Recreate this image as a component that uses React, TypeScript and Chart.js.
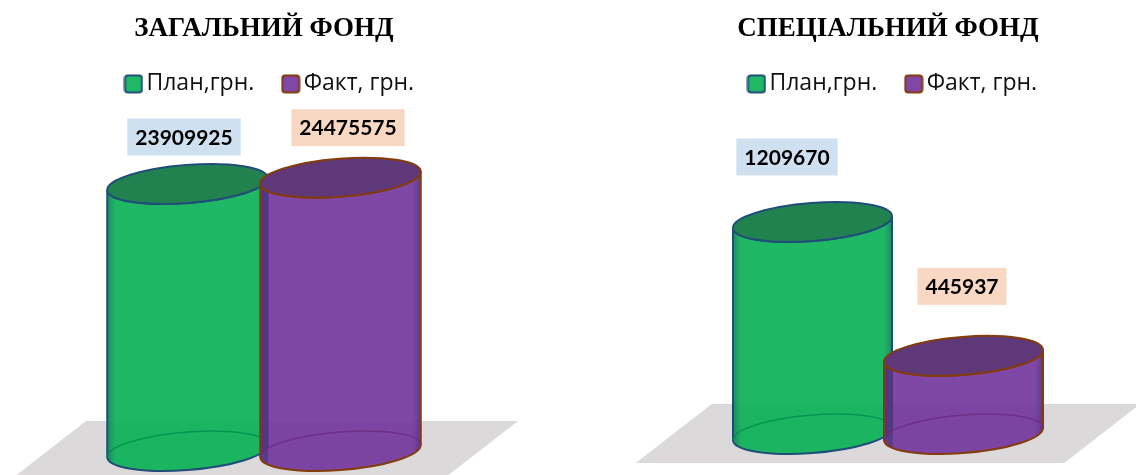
import React, { useEffect, useRef } from "react";
import { Chart, registerables } from "chart.js";

Chart.register(...registerables);

const categories = [""];
const seriesNames = ["План,грн.", "Факт, грн."];
const generalPlan = [23909925];
const generalFact = [24475575];
const specialPlan = [1209670];
const specialFact = [445937];

const SERIES_STYLE = [
  {
    legendFill: "#1FB864", stroke: "#1F4E79", top: "#21824F", backArc: "rgba(0,140,75,0.75)",
    main: "rgba(6,176,83,0.9)", edge: "rgba(10,125,88,0.9)", label: "#CFE0F1",
  },
  {
    legendFill: "#7F47A6", stroke: "#843C0C", top: "#5E3878", backArc: "rgba(110,40,130,0.75)",
    main: "rgba(113,51,156,0.9)", edge: "rgba(85,50,130,0.95)", label: "#F8D8C3",
  },
];

const TILT = (-4.5 * Math.PI) / 180;
const MINOR = 19;

function cylinder(ctx: CanvasRenderingContext2D, bar: any, s: any, overlapFrac: number) {
  const cx = bar.x, topY = bar.y, baseY = bar.base;
  const a = bar.width / 2, b = MINOR, phi = TILT;
  const t0 = Math.atan2(-b * Math.sin(phi), a * Math.cos(phi));
  const dx = a * Math.cos(t0) * Math.cos(phi) - b * Math.sin(t0) * Math.sin(phi);
  const dy = a * Math.cos(t0) * Math.sin(phi) + b * Math.sin(t0) * Math.cos(phi);

  const g = ctx.createLinearGradient(cx - dx, 0, cx + dx, 0);
  if (overlapFrac > 0) {
    g.addColorStop(0, s.edge);
    g.addColorStop(overlapFrac, s.edge);
    g.addColorStop(overlapFrac + 0.002, s.main);
  } else {
    g.addColorStop(0, s.edge);
    g.addColorStop(0.05, s.main);
  }
  g.addColorStop(0.95, s.main);
  g.addColorStop(1, s.edge);

  ctx.save();
  ctx.beginPath();
  ctx.moveTo(cx + dx, topY + dy);
  ctx.lineTo(cx + dx, baseY + dy);
  ctx.ellipse(cx, baseY, a, b, phi, t0, t0 + Math.PI);
  ctx.lineTo(cx - dx, topY - dy);
  ctx.ellipse(cx, topY, a, b, phi, t0 + Math.PI, t0, true);
  ctx.closePath();
  ctx.fillStyle = g;
  ctx.fill();
  ctx.lineWidth = 2;
  ctx.strokeStyle = s.stroke;
  ctx.stroke();

  ctx.beginPath();
  ctx.ellipse(cx, baseY, a, b, phi, t0 + Math.PI, t0 + 2 * Math.PI);
  ctx.strokeStyle = s.backArc;
  ctx.lineWidth = 1.5;
  ctx.stroke();

  ctx.beginPath();
  ctx.ellipse(cx, topY, a, b, phi, 0, 2 * Math.PI);
  ctx.fillStyle = s.top;
  ctx.fill();
  ctx.lineWidth = 2;
  ctx.strokeStyle = s.stroke;
  ctx.stroke();
  ctx.restore();
}

function makeSwatch(fill: string, stroke: string) {
  const c = document.createElement("canvas");
  c.width = 20;
  c.height = 20;
  const x = c.getContext("2d")!;
  x.beginPath();
  x.roundRect(1.5, 1.5, 17, 17, 3);
  x.fillStyle = fill;
  x.fill();
  x.lineWidth = 2;
  x.strokeStyle = stroke;
  x.stroke();
  return c;
}

function CylinderChart(props: {
  title: string; plan: number[]; fact: number[]; left: number; width: number; baseFromBottom: number;
  pxPerUnit: number; categoryPct: number; barPct: number; labelOffsets: number[][]; legendShift: number;
}) {
  const ref = useRef<HTMLCanvasElement | null>(null);
  useEffect(() => {
    const swatches = SERIES_STYLE.map((s) => makeSwatch(s.legendFill, s.stroke));
    const scenePlugin = {
      id: "cylinders",
      afterLayout(chart: any) {
        chart.legend.left += props.legendShift;
        chart.legend.right += props.legendShift;
        chart.legend.top -= 8;
        chart.legend.bottom -= 8;
      },
      beforeDatasetsDraw(chart: any) {
        const ctx = chart.ctx as CanvasRenderingContext2D;
        const a = chart.getDatasetMeta(0).data[0] as any;
        const c = chart.getDatasetMeta(1).data[0] as any;
        const base = a.base;
        const xL = a.x - a.width / 2;
        const xR = c.x + c.width / 2;
        ctx.save();
        ctx.beginPath();
        ctx.moveTo(xL - 21, base - 30);
        ctx.lineTo(xR + 97, base - 30);
        ctx.lineTo(xR + 21, base + 29);
        ctx.lineTo(xL - 97, base + 29);
        ctx.closePath();
        ctx.fillStyle = "#DBD9DA";
        ctx.fill();
        ctx.restore();
        const overlap = (a.x + a.width / 2 - (c.x - c.width / 2)) / c.width;
        cylinder(ctx, a, SERIES_STYLE[0], 0);
        cylinder(ctx, c, SERIES_STYLE[1], overlap);
        [a, c].forEach((bar, i) => {
          const v = chart.data.datasets[i].data[0];
          const text = String(v);
          ctx.save();
          ctx.font = "bold 21px Lato";
          const w = ctx.measureText(text).width + 16;
          const h = 37;
          const lx = bar.x + props.labelOffsets[i][0];
          const ly = bar.y + props.labelOffsets[i][1];
          ctx.fillStyle = SERIES_STYLE[i].label;
          ctx.fillRect(lx - w / 2, ly - h / 2, w, h);
          ctx.fillStyle = "#000";
          ctx.textAlign = "center";
          ctx.textBaseline = "middle";
          ctx.fillText(text, lx, ly + 1);
          ctx.restore();
        });
        return false;
      },
    };
    const chart: any = new Chart(ref.current!, {
      type: "bar",
      data: {
        labels: categories,
        datasets: [
          { label: seriesNames[0], data: props.plan, backgroundColor: SERIES_STYLE[0].legendFill, borderColor: SERIES_STYLE[0].stroke, borderWidth: 2 },
          { label: seriesNames[1], data: props.fact, backgroundColor: SERIES_STYLE[1].legendFill, borderColor: SERIES_STYLE[1].stroke, borderWidth: 2 },
        ],
      },
      options: {
        animation: false,
        responsive: false,
        layout: { padding: { bottom: props.baseFromBottom } },
        datasets: { bar: { categoryPercentage: props.categoryPct, barPercentage: props.barPct } },
        scales: {
          x: { display: false },
          y: { display: false, min: 0, max: 100000000 },
        },
        plugins: {
          tooltip: { enabled: false },
          title: {
            display: true,
            text: props.title,
            color: "#000",
            font: { family: "'Liberation Serif'", size: 27, weight: "bold" },
            padding: { top: 13, bottom: 0 },
          },
          legend: {
            display: true,
            position: "top",
            labels: {
              color: "#111",
              font: { family: "'Open Sans'", size: 23 },
              usePointStyle: true,
              pointStyleWidth: 3,
              padding: 35,
              generateLabels(ch: any) {
                const items = Chart.defaults.plugins.legend.labels.generateLabels(ch);
                items.forEach((it: any, i: number) => { it.pointStyle = swatches[i]; });
                return items;
              },
            },
          },
        },
      },
      plugins: [scenePlugin],
    } as any);
    const span = (chart.chartArea.bottom - chart.chartArea.top) / props.pxPerUnit;
    chart.options.scales.y.max = span;
    chart.update();
    return () => chart.destroy();
  }, []);
  return (
    <canvas
      ref={ref}
      width={props.width}
      height={475}
      style={{ position: "absolute", left: props.left, top: 0, width: props.width, height: 475 }}
    />
  );
}

export default function App() {
  return (
    <div style={{ position: "fixed", left: 0, top: 0, width: 1136, height: 475, overflow: "hidden", background: "#fff" }}>
      <CylinderChart
        title="ЗАГАЛЬНИЙ ФОНД"
        plan={generalPlan}
        fact={generalFact}
        left={0}
        width={528}
        baseFromBottom={24}
        pxPerUnit={267 / 23909925}
        categoryPct={306 / 528}
        barPct={161 / 153}
        labelOffsets={[[-3.5, -47], [7.5, -50]]}
        legendShift={9}
      />
      <CylinderChart
        title="СПЕЦІАЛЬНИЙ ФОНД"
        plan={specialPlan}
        fact={specialFact}
        left={632}
        width={512}
        baseFromBottom={41}
        pxPerUnit={212 / 1209670}
        categoryPct={302 / 512}
        barPct={159.5 / 151}
        labelOffsets={[[-25.5, -65], [-1.5, -69.5]]}
        legendShift={8}
      />
    </div>
  );
}
